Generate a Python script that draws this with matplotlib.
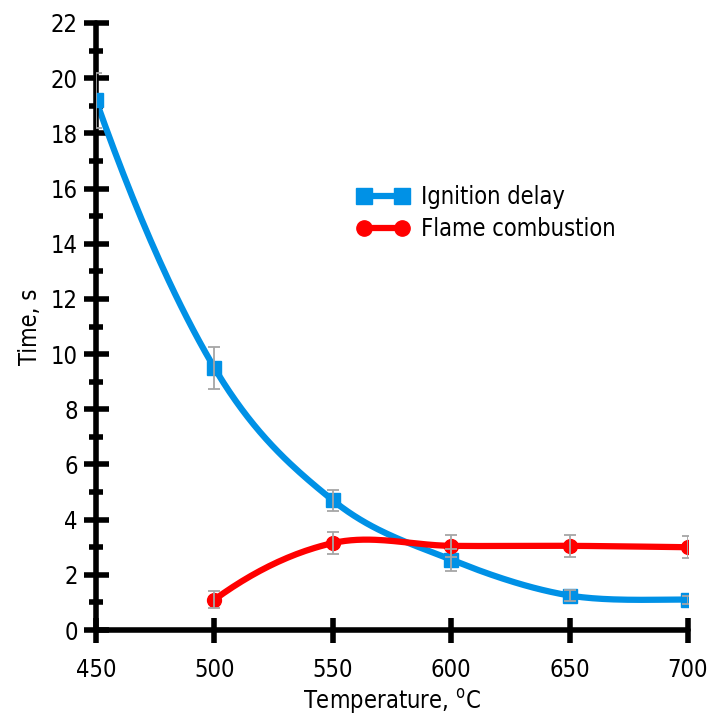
"""plot.py - ignition delay and flame combustion time vs temperature.

Saves out.png (712x718). Smooth lines are drawn as cubic Bezier curves through
the measured points, the way a spreadsheet "smoothed line" chart does.
"""
import matplotlib

matplotlib.use("Agg")
import matplotlib.pyplot as plt
import numpy as np

temperature = [450, 500, 550, 600, 650, 700]

ignition_delay = [19.2, 9.5, 4.7, 2.55, 1.25, 1.1]
ignition_err = [1.0, 0.75, 0.37, 0.4, 0.2, 0.15]

flame_temp = [500, 550, 600, 650, 700]
flame_combustion = [1.1, 3.15, 3.05, 3.05, 3.0]
flame_err = [0.3, 0.4, 0.4, 0.4, 0.4]

BLUE = "#0091e6"
RED = "#ff0000"
GREY = "#a6a6a6"

plt.rcParams["font.family"] = ["DejaVu Sans"]
plt.rcParams["font.stretch"] = "condensed"


def smooth(x, y, n=40):
    # Catmull-Rom style Bezier; the first tangent comes from a parabola
    # through the first three points, the last end is just repeated
    p = np.column_stack([x, y]).astype(float)
    head = 3 * p[0] - 3 * p[1] + p[2]
    p = np.vstack([head, p, p[-1]])
    t = np.linspace(0, 1, n)[:, None]
    segs = []
    for i in range(1, len(p) - 2):
        p0, p1, p2, p3 = p[i - 1], p[i], p[i + 1], p[i + 2]
        c1 = p1 + (p2 - p0) / 6
        c2 = p2 - (p3 - p1) / 6
        segs.append((1 - t) ** 3 * p1 + 3 * (1 - t) ** 2 * t * c1
                    + 3 * (1 - t) * t ** 2 * c2 + t ** 3 * p2)
    out = np.vstack(segs)
    return out[:, 0], out[:, 1]


fig = plt.figure(figsize=(7.12, 7.18), dpi=100)
ax = fig.add_axes([96 / 712, 1 - 630 / 718, 592 / 712, 607 / 718])

sx, sy = smooth(temperature, ignition_delay)
ax.plot(sx, sy, color=BLUE, lw=4.5, solid_capstyle="round", zorder=2)
fx, fy = smooth(flame_temp, flame_combustion)
ax.plot(fx, fy, color=RED, lw=4.5, solid_capstyle="round", zorder=2)

ax.plot(temperature, ignition_delay, ls="none", marker="s", ms=10,
        color=BLUE, zorder=3)
ax.plot(flame_temp, flame_combustion, ls="none", marker="o", ms=10,
        color=RED, zorder=3)
ax.errorbar(temperature, ignition_delay, yerr=ignition_err, fmt="none",
            ecolor=GREY, elinewidth=1.3, capsize=4.3, capthick=1.3, zorder=4)
ax.errorbar(flame_temp, flame_combustion, yerr=flame_err, fmt="none",
            ecolor=GREY, elinewidth=1.3, capsize=4.3, capthick=1.3, zorder=4)

# legend proxies: marker - line - marker
ax.plot([], [], color=BLUE, lw=4.5, marker="s", ms=11, label="Ignition delay")
ax.plot([], [], color=RED, lw=4.5, marker="o", ms=11, label="Flame combustion")
ax.legend(loc="upper left", bbox_to_anchor=(0.405, 0.768), frameon=False,
          numpoints=2, handlelength=2.2, fontsize=17, labelspacing=0.33,
          handletextpad=0.5)

ax.set_xlim(450, 700)
ax.set_ylim(0, 22)
ax.set_xticks(temperature)
ax.set_yticks(np.arange(0, 23, 2))
ax.set_yticks(np.arange(1, 22, 2), minor=True)

for side in ("top", "right"):
    ax.spines[side].set_visible(False)
for side in ("left", "bottom"):
    ax.spines[side].set_linewidth(4)
    ax.spines[side].set_capstyle("round")

ax.tick_params(axis="both", which="major", direction="inout", length=18,
               width=4, labelsize=17)
ax.tick_params(axis="x", pad=11)
ax.tick_params(axis="y", pad=4)
ax.tick_params(axis="y", which="minor", direction="inout", length=10, width=4)

ax.set_xlabel(r"Temperature, $^{\mathrm{o}}$C", fontsize=17, labelpad=4)
ax.set_ylabel("Time, s", fontsize=17, labelpad=6)

fig.savefig("out.png", dpi=100)
plt.close(fig)
